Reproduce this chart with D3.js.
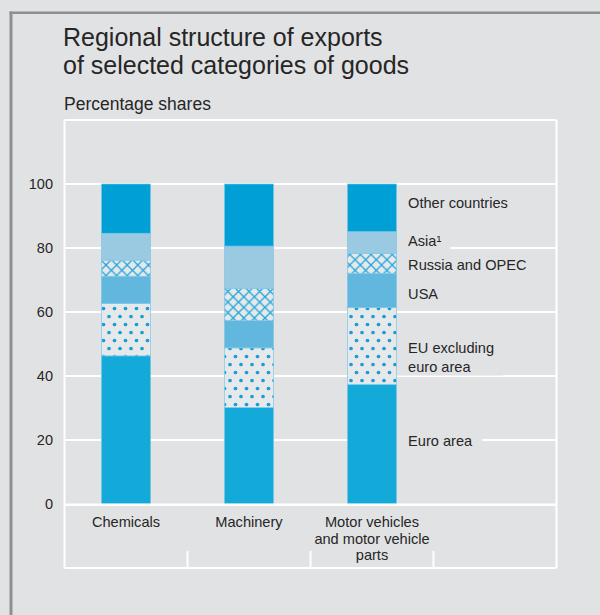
<!DOCTYPE html>
<html>
<head>
<meta charset="utf-8">
<script src="https://cdn.jsdelivr.net/npm/d3@7"></script>
<style>
  html, body { margin: 0; padding: 0; background: #e1e2e4; }
  svg { display: block; }
  text { font-family: "Liberation Sans", Arial, sans-serif; fill: #262626; }
</style>
</head>
<body>
<svg id="chart" width="600" height="615"></svg>
<script>
// ---- data ----
const categories = ["Chemicals", "Machinery", "Motor vehicles and motor vehicle parts"];
const categoryLines = [["Chemicals"], ["Machinery"], ["Motor vehicles", "and motor vehicle", "parts"]];
const seriesNames = ["Euro area", "EU excluding euro area", "USA", "Russia and OPEC", "Asia¹", "Other countries"];
const euroArea      = [46.3, 30.2, 37.4];
const euExEuroArea  = [16.4, 18.6, 24.0];
const usa           = [ 8.5,  8.5, 10.7];
const russiaOpec    = [ 5.0, 10.1,  6.2];
const asia          = [ 8.4, 13.2,  6.8];
const otherCountries= [15.4, 19.4, 14.9];
const yTicks = [0, 20, 40, 60, 80, 100];
const title = ["Regional structure of exports", "of selected categories of goods"];
const subtitle = "Percentage shares";

// ---- build ----
const series = [euroArea, euExEuroArea, usa, russiaOpec, asia, otherCountries];
const keys = ["euro", "euex", "usa", "rus", "asia", "other"];
const table = categories.map((c, i) => {
  const o = { cat: c };
  keys.forEach((k, j) => o[k] = series[j][i]);
  return o;
});
const stacked = d3.stack().keys(keys)(table);

const svg = d3.select("#chart");
const W = 600, H = 615;
svg.append("rect").attr("width", W).attr("height", H).attr("fill", "#e1e2e4");

// frame
svg.append("line").attr("x1", 9.5).attr("x2", W).attr("y1", 12.7).attr("y2", 12.7)
  .attr("stroke", "#8e8f91").attr("stroke-width", 2.6);
svg.append("line").attr("x1", 11).attr("x2", 11).attr("y1", 11.5).attr("y2", H)
  .attr("stroke", "#8e8f91").attr("stroke-width", 3);

// patterns
const defs = svg.append("defs");
const cross = defs.append("pattern").attr("id", "cross").attr("patternUnits", "userSpaceOnUse")
  .attr("width", 10.6).attr("height", 10.6).attr("x", 0).attr("y", 0);
cross.append("rect").attr("width", 10.6).attr("height", 10.6).attr("fill", "#e6e8ea");
cross.append("path").attr("d", "M0,0L10.6,10.6M10.6,0L0,10.6M-5.3,5.3L0,10.6M5.3,-5.3L15.9,5.3")
  .attr("stroke", "#22a6dc").attr("stroke-width", 1.3).attr("fill", "none");
const dots = defs.append("pattern").attr("id", "dots").attr("patternUnits", "userSpaceOnUse")
  .attr("width", 11).attr("height", 16).attr("x", 2).attr("y", 2);
dots.append("rect").attr("width", 11).attr("height", 16).attr("fill", "#e6e8ea");
dots.append("circle").attr("cx", 2.5).attr("cy", 2.5).attr("r", 1.85).attr("fill", "#149fda");
dots.append("circle").attr("cx", 8).attr("cy", 10.5).attr("r", 1.85).attr("fill", "#149fda");

const fills = {
  euro: "#13aada",
  euex: "url(#dots)",
  usa: "#62b7de",
  rus: "url(#cross)",
  asia: "#9acae2",
  other: "#00a0d6"
};

// scales
const plotL = 64.5, plotR = 556.5, plotT = 120, y0px = 504, catBottom = 568;
const x = d3.scaleBand().domain([...categories, ""]).range([plotL, plotR])
  .paddingInner(0.6).paddingOuter(0.3);
const step = x.step();
const y = d3.scaleLinear().domain([0, 120]).range([y0px, plotT]);

// title
const tt = svg.append("text").attr("x", 63).attr("y", 46).style("font-size", "25px");
title.forEach((t, i) => tt.append("tspan").attr("x", 63).attr("y", 46 + i * 28).text(t));
svg.append("text").attr("x", 64).attr("y", 109.5).style("font-size", "17.5px").text(subtitle);

// plot frame (white)
const white = "#ffffff";
svg.append("line").attr("x1", plotL).attr("x2", plotR).attr("y1", plotT).attr("y2", plotT)
  .attr("stroke", white).attr("stroke-width", 2);
svg.append("line").attr("x1", plotL).attr("x2", plotL).attr("y1", plotT).attr("y2", catBottom)
  .attr("stroke", white).attr("stroke-width", 2);
svg.append("line").attr("x1", plotR).attr("x2", plotR).attr("y1", plotT).attr("y2", catBottom)
  .attr("stroke", white).attr("stroke-width", 2);
svg.append("line").attr("x1", plotL).attr("x2", plotR).attr("y1", catBottom).attr("y2", catBottom)
  .attr("stroke", white).attr("stroke-width", 2);

// gridlines
const grid = svg.append("g");
yTicks.filter(d => d > 0).forEach(d => {
  grid.append("line").attr("x1", plotL).attr("x2", plotR).attr("y1", y(d)).attr("y2", y(d))
    .attr("stroke", white).attr("stroke-width", 2);
});

// y axis labels
const yAxis = d3.axisLeft(y).tickValues(yTicks).tickSize(0).tickPadding(0);
const ya = svg.append("g").attr("transform", `translate(53,0)`).call(yAxis);
ya.select(".domain").remove();
ya.selectAll("text").style("font-size", "14.5px").style("font-family", "'Liberation Sans', Arial, sans-serif")
  .attr("fill", "#262626");

// bars
const barG = svg.append("g");
stacked.forEach(layer => {
  barG.selectAll(null).data(layer).enter().append("rect")
    .attr("x", d => x(d.data.cat))
    .attr("width", x.bandwidth())
    .attr("y", d => y(d[1]))
    .attr("height", d => y(d[0]) - y(d[1]))
    .attr("fill", fills[layer.key])
    .attr("stroke", "#7fc8e8").attr("stroke-width", 0.7);
});

// zero line
svg.append("line").attr("x1", plotL).attr("x2", plotR).attr("y1", y(0) + 0.8).attr("y2", y(0) + 0.8)
  .attr("stroke", white).attr("stroke-width", 2.6);

// category separators
x.domain().forEach((c, i) => {
  if (i === 0) return;
  const bx = plotL + i * step;
  svg.append("line").attr("x1", bx).attr("x2", bx).attr("y1", 551).attr("y2", catBottom)
    .attr("stroke", white).attr("stroke-width", 2);
});

// category labels (multi-line as tspans)
categories.forEach((c, i) => {
  const cx = x(c) + x.bandwidth() / 2;
  const t = svg.append("text").attr("x", cx).attr("y", 527).attr("text-anchor", "middle")
    .style("font-size", "14.6px");
  categoryLines[i].forEach((ln, j) => {
    t.append("tspan").attr("x", cx).attr("y", 527 + j * 16.5).text(ln);
  });
});

// series labels at right, beside last bar
const last = categories.length - 1;
const labelX = x(categories[last]) + x.bandwidth() + 11.5;
const nudges = [-3, 11, 3, 2, -2, -5]; // px adjustments for readability
const labelLines = [["Euro area"], ["EU excluding", "euro area"], ["USA"], ["Russia and OPEC"], ["Asia¹"], ["Other countries"]];
stacked.forEach((layer, k) => {
  const d = layer[last];
  const cy = y((d[0] + d[1]) / 2) + nudges[k];
  const lines = labelLines[k];
  const lh = 19;
  const g = svg.append("g");
  const top = cy - (lines.length - 1) * lh / 2;
  const t = g.append("text").attr("x", labelX).attr("y", top).style("font-size", "14.6px");
  lines.forEach((ln, j) => {
    t.append("tspan").attr("x", labelX).attr("y", top + j * lh).attr("dy", "0.35em").text(ln);
  });
  const bb = g.node().getBBox();
  g.insert("rect", "text").attr("x", bb.x - 11).attr("y", bb.y - 1).attr("width", bb.width + 20)
    .attr("height", bb.height + 2).attr("fill", "#e1e2e4");
});
</script>
</body>
</html>
